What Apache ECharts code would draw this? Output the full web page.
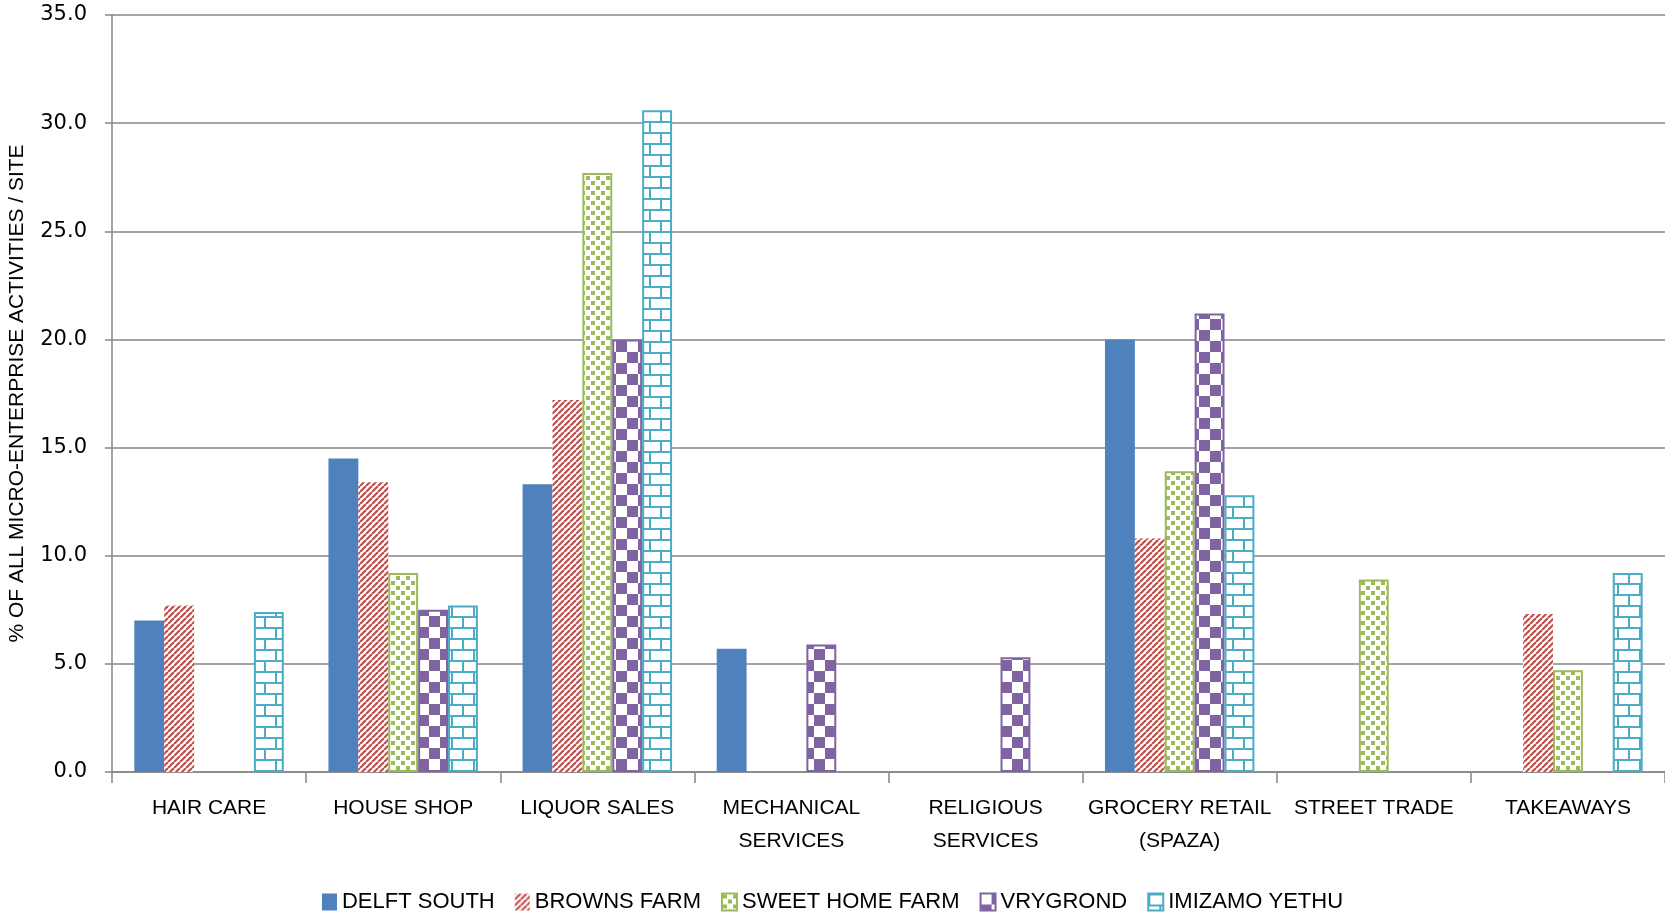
<!DOCTYPE html>
<html>
<head>
<meta charset="utf-8">
<script src="https://cdn.jsdelivr.net/npm/echarts@6/dist/echarts.min.js"></script>
<style>
html,body{margin:0;padding:0;background:#fff;}
#chart{width:1665px;height:916px;}
</style>
</head>
<body>
<div id="chart"></div>
<script>
// ---- data ----
const categories = ['HAIR CARE', 'HOUSE SHOP', 'LIQUOR SALES', 'MECHANICAL\nSERVICES', 'RELIGIOUS\nSERVICES', 'GROCERY RETAIL\n(SPAZA)', 'STREET TRADE', 'TAKEAWAYS'];
const seriesNames = ['DELFT SOUTH', 'BROWNS FARM', 'SWEET HOME FARM', 'VRYGROND', 'IMIZAMO YETHU'];
const delftSouth   = [7.0, 14.5, 13.3, 5.7, null, 20.0, null, null];
const brownsFarm   = [7.7, 13.4, 17.2, null, null, 10.8, null, 7.3];
const sweetHome    = [null, 9.2, 27.7, null, null, 13.9, 8.9, 4.7];
const vrygrond     = [null, 7.5, 20.0, 5.9, 5.3, 21.2, null, null];
const imizamoYethu = [7.4, 7.7, 30.6, null, null, 12.8, null, 9.2];
const yTicks = [0, 5, 10, 15, 20, 25, 30, 35];

// ---- patterns ----
function tile(w, h, draw) {
  const c = document.createElement('canvas');
  c.width = w; c.height = h;
  const ctx = c.getContext('2d');
  ctx.fillStyle = '#fff';
  ctx.fillRect(0, 0, w, h);
  draw(ctx, w, h);
  return c;
}
const stripes = tile(6, 6, (ctx, w, h) => {
  ctx.strokeStyle = '#C0504D';
  ctx.lineWidth = 2.2;
  for (let k = -1; k <= 1; k++) {
    ctx.beginPath();
    ctx.moveTo(k * w, h);
    ctx.lineTo(k * w + w, 0);
    ctx.stroke();
  }
});
const dots = tile(10, 10, (ctx) => {
  ctx.fillStyle = '#9BBB59';
  ctx.fillRect(1, 1, 4, 4);
  ctx.fillRect(6, 6, 4, 4);
});
const checker = tile(22, 22, (ctx) => {
  ctx.fillStyle = '#8064A2';
  ctx.fillRect(11, 0, 11, 11);
  ctx.fillRect(0, 11, 11, 11);
});
const bricks = tile(22, 22, (ctx) => {
  ctx.fillStyle = '#4BACC6';
  ctx.fillRect(0, 0, 22, 2);
  ctx.fillRect(0, 11, 22, 2);
  ctx.fillRect(0, 0, 2, 11);
  ctx.fillRect(11, 11, 2, 11);
});

const styles = [
  { color: '#4F81BD' },
  { color: { image: stripes, repeat: 'repeat' } },
  { color: { image: dots, repeat: 'repeat' }, borderColor: '#9BBB59', borderWidth: 2 },
  { color: { image: checker, repeat: 'repeat' }, borderColor: '#8064A2', borderWidth: 2 },
  { color: { image: bricks, repeat: 'repeat' }, borderColor: '#4BACC6', borderWidth: 2 }
];
const allData = [delftSouth, brownsFarm, sweetHome, vrygrond, imizamoYethu];

const chart = echarts.init(document.getElementById('chart'));
chart.setOption({
  animation: false,
  backgroundColor: '#fff',
  grid: { left: 112, right: 0, top: 15, bottom: 144, containLabel: false, outerBoundsMode: 'none' },
  legend: {
    bottom: -2,
    left: 'center',
    itemWidth: 15,
    itemHeight: 17,
    itemGap: 20,
    icon: 'rect',
    textStyle: { fontFamily: '"Liberation Sans", sans-serif', fontSize: 22, color: '#000' },
    data: seriesNames
  },
  xAxis: {
    type: 'category',
    data: categories,
    axisLine: { lineStyle: { color: '#868686', width: 1.5 } },
    axisTick: { show: true, interval: 0, length: 11, lineStyle: { color: '#868686', width: 1.5 } },
    axisLabel: { interval: 0, margin: 20, lineHeight: 33, color: '#000', fontFamily: '"Liberation Sans", sans-serif', fontSize: 21 }
  },
  yAxis: {
    type: 'value',
    min: yTicks[0],
    max: yTicks[yTicks.length - 1],
    interval: yTicks[1] - yTicks[0],
    name: '% OF ALL MICRO-ENTERPRISE ACTIVITIES / SITE',
    nameLocation: 'middle',
    nameGap: 84,
    nameTextStyle: { fontFamily: '"Liberation Sans", sans-serif', fontSize: 21, color: '#000' },
    axisLine: { show: true, lineStyle: { color: '#868686', width: 1.5 } },
    axisTick: { show: true, length: 7, lineStyle: { color: '#868686', width: 1.5 } },
    axisLabel: { margin: 25, color: '#000', fontFamily: '"DejaVu Sans", sans-serif', fontSize: 21, formatter: v => v.toFixed(1) },
    splitLine: { lineStyle: { color: '#868686', width: 1.5 } }
  },
  series: seriesNames.map((n, i) => ({
    name: n,
    type: 'bar',
    data: allData[i],
    barGap: '0%',
    barCategoryGap: '23%',
    itemStyle: styles[i]
  }))
});
</script>
</body>
</html>
